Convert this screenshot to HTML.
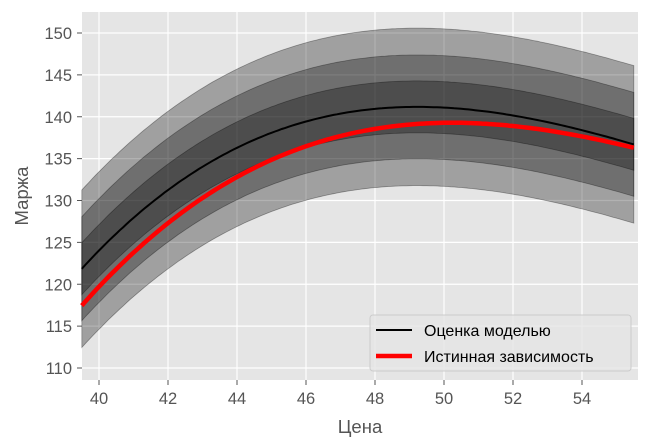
<!DOCTYPE html><html><head><meta charset="utf-8"><style>body{margin:0;background:#fff}svg{display:block;font-family:"Liberation Sans","DejaVu Sans",sans-serif}</style></head><body>
<svg id="s" width="651" height="448" xmlns="http://www.w3.org/2000/svg">
<rect x="82" y="12" width="556" height="368" fill="#e5e5e5"/>
<g id="grid" stroke="#fff" stroke-width="1.2"></g>
<g id="bands"></g>
<g id="ticks" fill="#555" font-size="16.5"></g>
<text x="360" y="433" text-anchor="middle" font-size="18.5" fill="#555">Цена</text>
<text transform="translate(28,196) rotate(-90)" text-anchor="middle" font-size="18.5" fill="#555">Маржа</text>
<rect x="370" y="315" width="261" height="56" rx="3" fill="#e5e5e5" fill-opacity="0.8" stroke="#ccc"/>
<line x1="376" y1="330" x2="412" y2="330" stroke="#000" stroke-width="2"/>
<line x1="376" y1="356" x2="412" y2="356" stroke="#f00" stroke-width="4.5"/>
<text x="424" y="336" font-size="16" fill="#000">Оценка моделью</text>
<text x="424" y="362" font-size="16" fill="#000">Истинная зависимость</text>
</svg>
<script>
const X=v=>99+(v-40)*34.5, Y=v=>33+(150-v)*8.375;
const xs=[39.5,42,44,46,48,50,52,54,55.5];
const blk=[121.8,131.3,136.4,139.4,140.8,141,140.3,138.5,136.6];
const red=[117.4,127.4,132.8,136.5,138.4,139.3,138.9,137.8,136.2];
function fit(ys,deg){const n=deg+1,A=[],b=[];for(let i=0;i<n;i++){A.push(new Array(n).fill(0));b.push(0);}
 xs.forEach((x,k)=>{const u=(x-47.5)/8;for(let i=0;i<n;i++){b[i]+=ys[k]*u**i;for(let j=0;j<n;j++)A[i][j]+=u**(i+j);}});
 for(let i=0;i<n;i++){for(let r=i+1;r<n;r++){const f=A[r][i]/A[i][i];for(let c=i;c<n;c++)A[r][c]-=f*A[i][c];b[r]-=f*b[i];}}
 const c=new Array(n);for(let i=n-1;i>=0;i--){let s=b[i];for(let j=i+1;j<n;j++)s-=A[i][j]*c[j];c[i]=s/A[i][i];}
 return x=>{const u=(x-47.5)/8;let s=0;for(let i=0;i<n;i++)s+=c[i]*u**i;return s;};}
const fb=fit(blk,3),fr=fit(red,3);
const N=160,pts=[];for(let k=0;k<=N;k++)pts.push(39.5+16*k/N);
const ns="http://www.w3.org/2000/svg";
function el(g,t,a){const e=document.createElementNS(ns,t);for(const k in a)e.setAttribute(k,a[k]);document.getElementById(g).appendChild(e);return e;}
for(let v=110;v<=150;v+=5){el("grid","line",{x1:82,x2:638,y1:Y(v),y2:Y(v)});el("ticks","line",{x1:77,x2:82,y1:Y(v),y2:Y(v),stroke:"#555"});const t=el("ticks","text",{x:72,y:Y(v)+6,"text-anchor":"end"});t.textContent=v;}
for(let v=40;v<=54;v+=2){el("grid","line",{x1:X(v),x2:X(v),y1:12,y2:380});el("ticks","line",{x1:X(v),x2:X(v),y1:380,y2:385,stroke:"#555"});const t=el("ticks","text",{x:X(v),y:404,"text-anchor":"middle"});t.textContent=v;}
for(const w of [9.4,6.2,3.1]){let d="";pts.forEach((x,i)=>d+=(i?"L":"M")+X(x).toFixed(1)+","+Y(fb(x)+w).toFixed(1));
 for(let i=pts.length-1;i>=0;i--)d+="L"+X(pts[i]).toFixed(1)+","+Y(fb(pts[i])-w).toFixed(1);
 el("bands","path",{d:d+"Z",fill:"#000","fill-opacity":0.3,stroke:"#000","stroke-opacity":0.35,"stroke-width":0.8});}
function line(f,c,w){let d="";pts.forEach((x,i)=>d+=(i?"L":"M")+X(x).toFixed(1)+","+Y(f(x)).toFixed(1));el("bands","path",{d,fill:"none",stroke:c,"stroke-width":w});}
line(fb,"#000",2);line(fr,"#f00",4.5);
</script></body></html>
